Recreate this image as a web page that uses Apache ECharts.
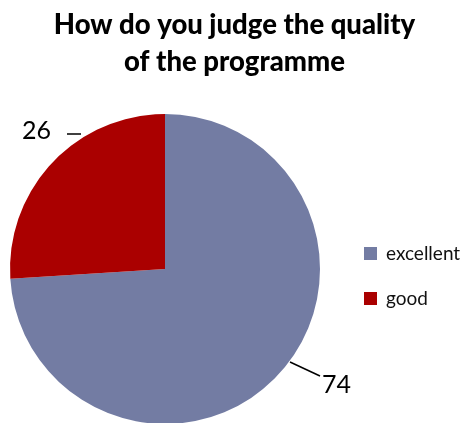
<!DOCTYPE html>
<html>
<head>
<meta charset="utf-8">
<script src="https://cdn.jsdelivr.net/npm/echarts@6/dist/echarts.min.js"></script>
<style>
  html, body { margin: 0; padding: 0; background: #fff; }
  #chart { width: 469px; height: 423px; }
</style>
</head>
<body>
<div id="chart"></div>
<script>
// Survey answers: programme quality rating
const categories = ['excellent', 'good'];
const values = [74, 26];
const colors = ['#737ca3', '#aa0000'];

const chart = echarts.init(document.getElementById('chart'), null, { renderer: 'canvas' });

// Label placement: value text next to a short leader line
function placeLabel(params) {
  const r = params.labelRect;
  if (params.dataIndex === 1) {
    // upper-left value with a short horizontal tick to its right
    const x = 22, y = 118;
    const midY = y + 16;
    return {
      x: x, y: y, align: 'left', verticalAlign: 'top',
      labelLinePoints: [[x + r.width + 16, midY], [x + r.width + 24, midY], [x + r.width + 30, midY]]
    };
  }
  // lower-right value with a diagonal leader line
  const x = 322, y = 372;
  return {
    x: x, y: y, align: 'left', verticalAlign: 'top',
    labelLinePoints: [[x - 32, y - 10], [x - 17, y - 3], [x - 2, y + 4]]
  };
}

chart.setOption({
  animation: false,
  backgroundColor: '#ffffff',
  title: {
    text: 'How do you judge the quality\nof the programme',
    left: 'center',
    top: 2,
    textStyle: {
      fontFamily: 'Lato',
      fontWeight: 900,
      fontSize: 27.5,
      lineHeight: 37,
      color: '#000'
    }
  },
  legend: {
    orient: 'vertical',
    left: 359,
    top: 239,
    itemWidth: 13,
    itemHeight: 13,
    itemGap: 26,
    icon: 'rect',
    textStyle: { fontFamily: 'Lato', fontSize: 19, color: '#111', padding: [0, 0, 0, 4] },
    data: categories
  },
  series: [{
    type: 'pie',
    center: [165, 269],
    radius: 155,
    startAngle: 90,
    clockwise: true,
    data: categories.map((name, i) => ({
      name: name,
      value: values[i],
      itemStyle: { color: colors[i] }
    })),
    label: {
      show: true,
      position: 'outside',
      formatter: '{c}',
      overflow: 'none',
      fontFamily: 'Lato',
      fontSize: 25,
      color: '#000'
    },
    labelLine: {
      show: true,
      length: 14,
      length2: 14,
      lineStyle: { color: '#000', width: 1.5 }
    },
    labelLayout: placeLabel
  }]
});
</script>
</body>
</html>
